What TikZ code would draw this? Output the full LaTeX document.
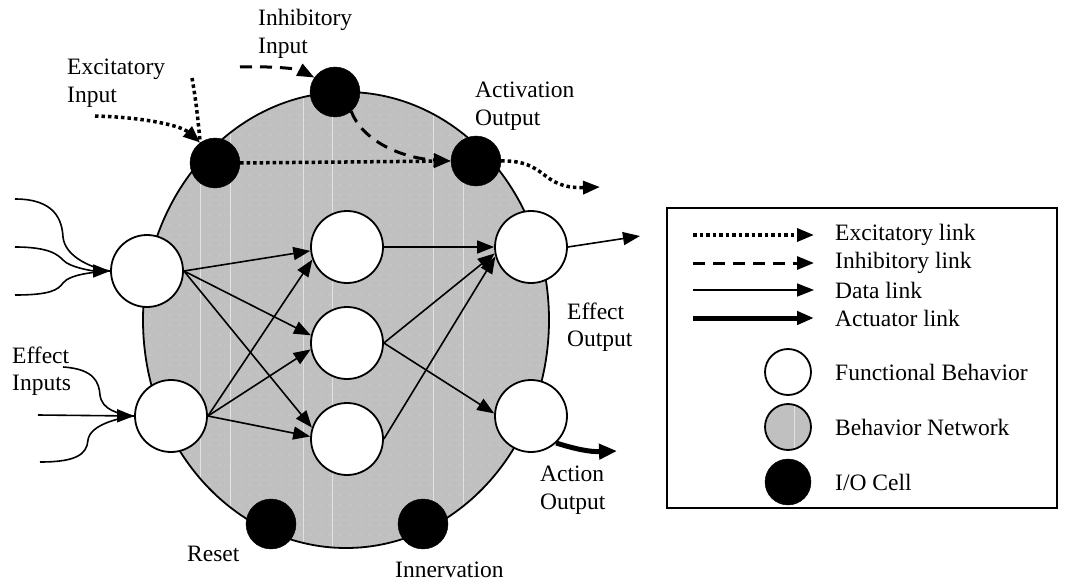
\documentclass[tikz,border=0pt]{standalone}
\usepackage{fontspec}
\setmainfont{Liberation Serif}
\usetikzlibrary{arrows.meta}
\definecolor{netgray}{HTML}{C0C0C0}
\begin{document}
\begin{tikzpicture}[x=1pt,y=-1pt,
  font=\fontsize{23.5}{27.5}\selectfont,
  fb/.style={circle,draw,line width=1.8pt,fill=white,minimum size=72pt,inner sep=0pt},
  io/.style={circle,fill=black,draw=black,minimum size=50pt,inner sep=0pt},
  lbl/.style={anchor=west,align=left,inner sep=0pt},
  tipA/.style={-{Triangle[length=17pt,width=13pt]}},
  datalink/.style={line width=1.6pt,tipA},
  plainlink/.style={line width=1.6pt},
  exclink/.style={line width=3.5pt,dash pattern=on 3.5pt off 3pt,tipA},
  excplain/.style={line width=3.5pt,dash pattern=on 3.5pt off 3pt},
  inhlink/.style={line width=3pt,dash pattern=on 12pt off 8pt,tipA},
  actlink/.style={line width=5pt,-{Triangle[length=18pt,width=15pt]}},
  texture/.style={white,opacity=0.55},
]
\useasboundingbox (0,0) rectangle (1065,583);

% behavior network body with its dotted texture
\fill[netgray] (346,320) ellipse [x radius=203pt, y radius=228pt];
\begin{scope}
  \clip (346,320) ellipse [x radius=203pt, y radius=228pt];
  \foreach \vx in {200,230,303,332,433,463}
    \draw[texture,line width=0.8pt] (\vx,80) -- (\vx,560);
  \foreach \dx in {150,160,...,550}
    \foreach \dy in {95,105,...,545}
      \fill[texture] (\dx,\dy) circle (0.6pt);
\end{scope}
\draw[line width=1.8pt] (346,320) ellipse [x radius=203pt, y radius=228pt];

% functional behaviors
\node[fb] (L1) at (147,271) {};
\node[fb] (L2) at (171,416) {};
\node[fb] (M1) at (347,247) {};
\node[fb] (M2) at (347,343) {};
\node[fb] (M3) at (347,439) {};
\node[fb] (R1) at (531,247) {};
\node[fb] (R2) at (531,416) {};

% I/O cells
\node[io] (E) at (215,163) {};
\node[io] (I) at (335,92) {};
\node[io] (A) at (476,161) {};
\node[io] (RS) at (271,524) {};
\node[io] (IN) at (423,524) {};

% labels
\node[lbl] at (258,34) {Inhibitory\\Input};
\node[lbl] at (67,83) {Excitatory\\Input};
\node[lbl] at (475,106) {Activation\\Output};
\node[lbl] at (567,327) {Effect\\Output};
\node[lbl] at (12,371) {Effect\\Inputs};
\node[lbl] at (540,490) {Action\\Output};
\node[lbl] at (187,554) {Reset};
\node[lbl] at (395,570) {Innervation};

% free ends of the external links
\coordinate (exA) at (95,116);
\coordinate (exB) at (192,78);
\coordinate (inA) at (240,67);
\coordinate (actOut) at (600,187);
\coordinate (effOut) at (640,236);
\coordinate (actuOut) at (617,451);
\coordinate (li1) at (15,199);
\coordinate (li2) at (15,247);
\coordinate (li3) at (15,295);
\coordinate (ei1) at (63,367);
\coordinate (ei2) at (38,415);
\coordinate (ei3) at (40,462);

% excitatory and inhibitory links
\draw[excplain] (exB) .. controls (196,100) and (198,120) .. (E.126);
\draw[exclink] (exA) .. controls (140,117) and (180,125) .. (E.126);
\draw[inhlink] (inA) .. controls (275,66) and (298,69) .. (I.145);
\draw[exclink] (E.east) -- (A.west);
\draw[inhlink] (I.-50) .. controls (362,140) and (400,158) .. (A.west);
\draw[exclink] (A.east) .. controls (548,160) and (540,189) .. (actOut);

% external data inputs
\draw[plainlink] (li1) .. controls (55,199) and (62,220) .. (63,237)
  .. controls (65,258) and (95,269) .. (L1.west);
\draw[plainlink] (li3) .. controls (50,295) and (58,290) .. (63,283)
  .. controls (70,274) and (95,272) .. (L1.west);
\draw[datalink] (li2) .. controls (50,247) and (58,255) .. (63,260)
  .. controls (70,268) and (95,271) .. (L1.west);
\draw[plainlink] (ei1) .. controls (95,369) and (99,383) .. (100,395)
  .. controls (102,410) and (118,414) .. (L2.west);
\draw[plainlink] (ei3) .. controls (75,462) and (87,455) .. (88,440)
  .. controls (90,425) and (118,418) .. (L2.west);
\draw[datalink] (ei2) -- (L2.west);

% internal data links
\draw[datalink] (L1.east) -- (M1.186);
\draw[datalink] (L1.east) -- (M2.168);
\draw[datalink] (L1.east) -- (M3.162);
\draw[datalink] (L2.east) -- (M1.200);
\draw[datalink] (L2.east) -- (M2.190);
\draw[datalink] (L2.east) -- (M3.176);
\draw[datalink] (M1.east) -- (R1.west);
\draw[datalink] (M2.east) -- (R1.190);
\draw[datalink] (M3.east) -- (R1.195);
\draw[datalink] (M2.east) -- (R2.176);

% outputs
\draw[datalink] (R1.east) -- (effOut);
\draw[actlink] (R2.-47) .. controls (575,449) and (590,452) .. (actuOut);

% legend
\draw[line width=1.8pt] (667,208) rectangle (1057,508);
\coordinate (k1a) at (693,235); \coordinate (k1b) at (814,235);
\coordinate (k2a) at (693,263); \coordinate (k2b) at (814,263);
\coordinate (k3a) at (693,290); \coordinate (k3b) at (814,290);
\coordinate (k4a) at (693,318); \coordinate (k4b) at (814,318);
\draw[exclink] (k1a) -- (k1b);
\draw[inhlink] (k2a) -- (k2b);
\draw[datalink] (k3a) -- (k3b);
\draw[line width=5pt,tipA] (k4a) -- (k4b);
\node[lbl] (t1) at (835,235) {Excitatory link};
\node[lbl] (t2) at (835,263) {Inhibitory link};
\node[lbl] (t3) at (835,290) {Data link};
\node[lbl] (t4) at (835,318) {Actuator link};
\node[circle,draw,line width=1.8pt,fill=white,minimum size=46pt,inner sep=0pt] (kf) at (788,372) {};
\node[circle,draw,line width=1.8pt,fill=netgray,minimum size=46pt,inner sep=0pt] (kn) at (788,427) {};
\begin{scope}
  \clip (788,427) circle (22pt);
  \draw[texture,line width=0.8pt] (794,400) -- (794,455);
\end{scope}
\node[io,minimum size=46pt] (ki) at (788,482) {};
\node[lbl] (t5) at (835,372) {Functional Behavior};
\node[lbl] (t6) at (835,427) {Behavior Network};
\node[lbl] (t7) at (835,482) {I/O Cell};
\end{tikzpicture}
\end{document}
